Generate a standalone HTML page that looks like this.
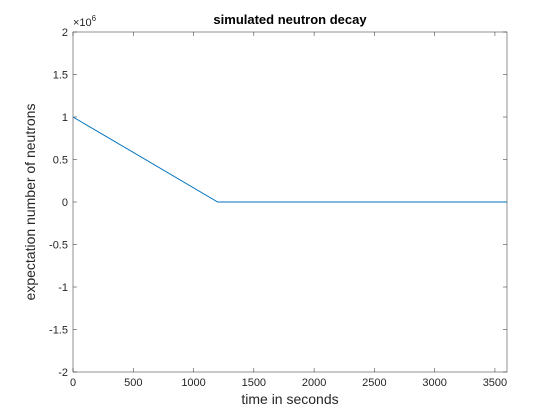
<!DOCTYPE html>
<html><head><meta charset="utf-8"><style>
body{margin:0;background:#fff;}
svg{display:block;font-family:"Liberation Sans",Arial,sans-serif;}
</style></head><body>
<svg id="chart" width="560" height="420" xmlns="http://www.w3.org/2000/svg"></svg>
<script>
const xTicks=[0,500,1000,1500,2000,2500,3000,3500];
const yTicks=[-2,-1.5,-1,-0.5,0,0.5,1,1.5,2];
const yTickLabels=["-2","-1.5","-1","-0.5","0","0.5","1","1.5","2"];
const timeValues=[0,1200,3600];
const neutronValues=[1e6,0,0];
const L=73,R=507,T=32,B=372;
const xMin=0,xMax=3600,yMin=-2e6,yMax=2e6;
const sx=v=>L+(v-xMin)/(xMax-xMin)*(R-L);
const sy=v=>B-(v-yMin)/(yMax-yMin)*(B-T);
const svg=document.getElementById('chart');
const NS='http://www.w3.org/2000/svg';
function mk(tag,attrs,parent){const e=document.createElementNS(NS,tag);for(const k in attrs)e.setAttribute(k,attrs[k]);(parent||svg).appendChild(e);return e;}
const bg=mk('rect',{x:L,y:T,width:R-L,height:B-T,fill:'#fff',stroke:'none'});


xTicks.forEach(t=>{const x=sx(t);
 const a=mk('line',{x1:x,x2:x,y1:B,y2:B-4,stroke:'#262626','stroke-width':0.5});
 
 
 mk('line',{x1:x,x2:x,y1:T,y2:T+4,stroke:'#262626','stroke-width':0.5});
 const tx=mk('text',{x:x,y:B+14,'font-size':11,'text-anchor':'middle',fill:'#262626'});tx.textContent=t;
 
 
});
yTicks.forEach((t,i)=>{const y=sy(t*1e6);
 const a=mk('line',{x1:L,x2:L+4,y1:y,y2:y,stroke:'#262626','stroke-width':0.5});
 
 
 mk('line',{x1:R,x2:R-4,y1:y,y2:y,stroke:'#262626','stroke-width':0.5});
 const tx=mk('text',{x:L-5,y:y+4,'font-size':11,'text-anchor':'end',fill:'#262626'});tx.textContent=yTickLabels[i];
 
 
});
const box=mk('rect',{x:L,y:T,width:R-L,height:B-T,fill:'none',stroke:'#262626','stroke-width':0.5});


const pts=timeValues.map((t,i)=>sx(t)+','+sy(neutronValues[i])).join(' ');
const line=mk('polyline',{points:pts,fill:'none',stroke:'#0072bd','stroke-width':1});


const exp=mk('text',{x:L,y:T-6,'font-size':11,fill:'#262626'});
exp.innerHTML='×10<tspan dy="-5" font-size="8">6</tspan>';


const title=mk('text',{x:(L+R)/2,y:T-8,'font-size':13,'font-weight':'bold','text-anchor':'middle',fill:'#000'});title.textContent='simulated neutron decay';


const xl=mk('text',{x:(L+R)/2,y:B+32,'font-size':14,'text-anchor':'middle',fill:'#262626'});xl.textContent='time in seconds';


const yl=mk('text',{x:0,y:0,'font-size':14,'text-anchor':'middle',fill:'#262626',transform:`translate(35,${(T+B)/2}) rotate(-90)`});yl.textContent='expectation number of neutrons';


</script>
</body></html>
